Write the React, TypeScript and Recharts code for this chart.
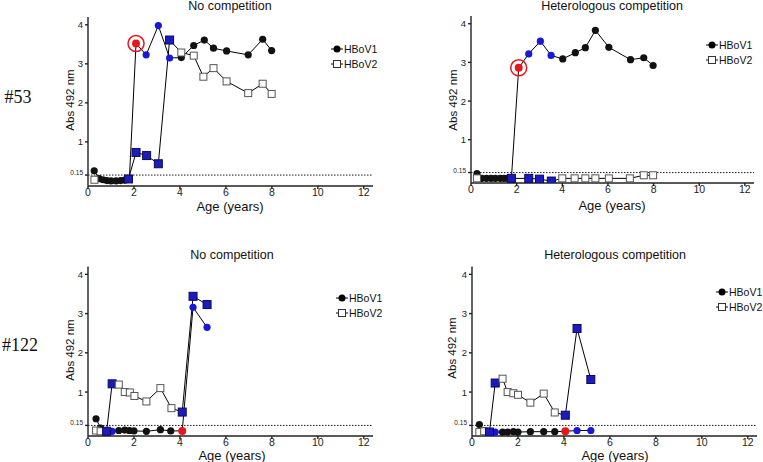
import { Line, LineChart, ReferenceLine, XAxis, YAxis } from 'recharts'

// ---------------------------------------------------------------------------
// Data (ages in years, absorbance at 492 nm, marker colour code per point)
// k = black, b = blue, r = red, R = red with ring, o = open square
// ---------------------------------------------------------------------------

const AGE_TICKS = [0, 2, 4, 6, 8, 10, 12]
const ABS_TICKS = [0, 0.15, 1, 2, 3, 4]
const CUTOFF = 0.15
const SERIES_NAMES = ['HBoV1', 'HBoV2']
const PANEL_TITLES = ['No competition', 'Heterologous competition']
const SUBJECTS = ['#53', '#122']

// #53 – no competition
const P53_NC_V1_AGE = [0.27, 0.48, 0.65, 0.82, 1.0, 1.22, 1.42, 1.6, 1.8, 2.09, 2.53, 3.06, 3.55, 4.06, 4.6, 5.06, 5.46, 6.03, 6.97, 7.6, 7.99]
const P53_NC_V1_ABS = [0.26, 0.06, 0.03, 0.01, 0.0, 0.0, 0.01, 0.02, 0.05, 3.52, 3.23, 3.98, 3.15, 3.16, 3.47, 3.61, 3.4, 3.33, 3.23, 3.63, 3.34]
const P53_NC_V1_COL = ['k', 'k', 'k', 'k', 'k', 'k', 'k', 'k', 'k', 'R', 'b', 'b', 'b', 'k', 'k', 'k', 'k', 'k', 'k', 'k', 'k']
const P53_NC_V2_AGE = [0.28, 1.76, 2.09, 2.55, 3.06, 3.55, 4.06, 4.6, 5.02, 5.46, 6.03, 6.97, 7.6, 7.99]
const P53_NC_V2_ABS = [0.03, 0.05, 0.73, 0.65, 0.44, 3.61, 3.29, 3.21, 2.67, 2.89, 2.55, 2.25, 2.49, 2.23]
const P53_NC_V2_COL = ['o', 'b', 'b', 'b', 'b', 'b', 'o', 'o', 'o', 'o', 'o', 'o', 'o', 'o']

// #53 – heterologous competition
const P53_HC_V1_AGE = [0.26, 0.48, 0.68, 0.88, 1.07, 1.28, 1.45, 1.6, 1.77, 2.09, 2.53, 3.04, 3.51, 4.02, 4.57, 5.01, 5.45, 6.04, 6.99, 7.57, 7.98]
const P53_HC_V1_ABS = [0.12, 0.0, 0.0, 0.0, 0.0, 0.0, 0.0, 0.0, 0.0, 2.86, 3.22, 3.55, 3.18, 3.09, 3.25, 3.38, 3.83, 3.39, 3.07, 3.12, 2.92]
const P53_HC_V1_COL = ['k', 'k', 'k', 'k', 'k', 'k', 'k', 'k', 'k', 'R', 'b', 'b', 'b', 'k', 'k', 'k', 'k', 'k', 'k', 'k', 'k']
const P53_HC_V2_AGE = [0.26, 1.77, 2.53, 3.0, 3.52, 4.0, 4.54, 5.01, 5.45, 6.04, 6.96, 7.57, 7.98]
const P53_HC_V2_ABS = [0.0, 0.0, 0.0, -0.02, -0.07, 0.0, 0.0, 0.0, 0.0, 0.0, 0.0, 0.08, 0.08]
const P53_HC_V2_COL = ['o', 'b', 'b', 'b', 'b', 'o', 'o', 'o', 'o', 'o', 'o', 'o', 'o']

// #122 – no competition
const P122_NC_V1_AGE = [0.35, 0.55, 0.81, 1.05, 1.34, 1.6, 1.8, 2.0, 2.54, 3.15, 3.6, 4.1, 4.57, 5.18]
const P122_NC_V1_ABS = [0.32, 0.08, 0.0, 0.0, 0.02, 0.03, 0.02, 0.01, 0.0, 0.04, 0.01, 0.01, 3.16, 2.65]
const P122_NC_V1_COL = ['k', 'k', 'b', 'b', 'k', 'k', 'k', 'k', 'k', 'k', 'k', 'r', 'b', 'b']
const P122_NC_V2_AGE = [0.35, 0.55, 0.81, 1.05, 1.34, 1.6, 1.82, 2.02, 2.54, 3.15, 3.63, 4.1, 4.57, 5.18]
const P122_NC_V2_ABS = [0.02, 0.0, 0.0, 1.21, 1.19, 1.0, 0.99, 0.9, 0.76, 1.1, 0.59, 0.49, 3.44, 3.23]
const P122_NC_V2_COL = ['o', 'o', 'b', 'b', 'o', 'o', 'o', 'o', 'o', 'o', 'o', 'b', 'b', 'b']

// #122 – heterologous competition
const P122_HC_V1_AGE = [0.32, 0.53, 0.76, 1.01, 1.33, 1.55, 1.8, 2.0, 2.54, 3.12, 3.6, 4.06, 4.57, 5.17]
const P122_HC_V1_ABS = [0.17, 0.02, 0.0, -0.02, -0.02, -0.02, -0.01, -0.02, -0.01, -0.01, -0.01, 0.0, 0.02, 0.02]
const P122_HC_V1_COL = ['k', 'k', 'k', 'b', 'k', 'k', 'k', 'k', 'k', 'k', 'k', 'r', 'b', 'b']
const P122_HC_V2_AGE = [0.32, 0.53, 0.76, 1.01, 1.33, 1.55, 1.8, 2.0, 2.54, 3.12, 3.6, 4.06, 4.57, 5.17]
const P122_HC_V2_ABS = [-0.02, 0.0, -0.02, 1.23, 1.34, 1.0, 0.97, 0.93, 0.73, 0.96, 0.48, 0.41, 2.62, 1.32]
const P122_HC_V2_COL = ['o', 'o', 'b', 'b', 'o', 'o', 'o', 'o', 'o', 'o', 'o', 'b', 'b', 'b']

// ---------------------------------------------------------------------------
// Helpers
// ---------------------------------------------------------------------------

type Pt = { x: number; y: number; c: string }

function toPoints(age: number[], abs: number[], col: string[]): Pt[] {
  return age.map((x, i) => ({ x, y: abs[i], c: col[i] }))
}

const FONT = '"Liberation Sans", Arial, Helvetica, sans-serif'
const BLACK = '#111'
const BLUE = '#1818d8'
const BLUE_SQ = '#1b1bc4'
const RED = '#e8161c'
const AXIS = '#222'

function circleDot(props: any) {
  const { cx, cy, payload, index } = props
  if (cx == null || cy == null) return <g key={index} />
  const c = payload.c
  const fill = c === 'b' ? BLUE : c === 'r' || c === 'R' ? RED : BLACK
  return (
    <g key={index}>
      {c === 'R' && <circle cx={cx} cy={cy} r={8} fill="none" stroke={RED} strokeWidth={1.5} />}
      <circle cx={cx} cy={cy} r={c === 'R' || c === 'r' ? 4 : 3.6} fill={fill} />
    </g>
  )
}

function squareDot(props: any) {
  const { cx, cy, payload, index } = props
  if (cx == null || cy == null) return <g key={index} />
  const blue = payload.c === 'b'
  const s = blue ? 8 : 7
  return (
    <rect
      key={index}
      x={cx - s / 2}
      y={cy - s / 2}
      width={s}
      height={s}
      fill={blue ? BLUE_SQ : '#fff'}
      stroke={blue ? '#0c0c50' : '#555'}
      strokeWidth={1}
    />
  )
}

function AbsTick(props: any) {
  const { x, y, payload } = props
  const small = payload.value === CUTOFF
  return (
    <text
      x={x}
      y={y}
      dy={small ? 0 : 3.5}
      textAnchor="end"
      fontSize={small ? 6.5 : 9.5}
      fontFamily={FONT}
      fill={AXIS}
    >
      {payload.value}
    </text>
  )
}

// ---------------------------------------------------------------------------
// Panel
// ---------------------------------------------------------------------------

interface PanelProps {
  left: number
  top: number
  width: number
  height: number
  yAxisWidth: number
  marginTop: number
  marginRight: number
  xAxisHeight: number
  yMin: number
  v1: Pt[]
  v2: Pt[]
}

function Panel(p: PanelProps) {
  return (
    <div style={{ position: 'absolute', left: p.left, top: p.top }}>
      <LineChart
        width={p.width}
        height={p.height}
        margin={{ top: p.marginTop, right: p.marginRight, left: 0, bottom: 0 }}
      >
        <XAxis
          type="number"
          dataKey="x"
          domain={[0, 12.4]}
          ticks={AGE_TICKS}
          allowDataOverflow
          height={p.xAxisHeight}
          tickSize={3}
          tickMargin={0}
          stroke={AXIS}
          strokeWidth={1.4}
          tick={{ fontSize: 10.5, fill: AXIS, fontFamily: FONT }}
        />
        <YAxis
          type="number"
          domain={[p.yMin, 4.2]}
          ticks={ABS_TICKS}
          allowDataOverflow
          width={p.yAxisWidth}
          tickSize={3}
          tickMargin={2}
          stroke={AXIS}
          strokeWidth={1.4}
          tick={<AbsTick />}
        />
        <ReferenceLine y={CUTOFF} stroke="#000" strokeWidth={0.9} strokeDasharray="1.5 1.5" />
        <Line
          data={p.v1}
          dataKey="y"
          type="linear"
          stroke="#000"
          strokeWidth={1}
          dot={circleDot}
          activeDot={false}
          isAnimationActive={false}
        />
        <Line
          data={p.v2}
          dataKey="y"
          type="linear"
          stroke="#000"
          strokeWidth={1}
          dot={squareDot}
          activeDot={false}
          isAnimationActive={false}
        />
      </LineChart>
    </div>
  )
}

function LegendBlock({ x, y }: { x: number; y: number }) {
  return (
    <g fontFamily={FONT} fontSize={10.5} fill="#111">
      <line x1={x - 6} x2={x + 6} y1={y} y2={y} stroke="#000" strokeWidth={1} />
      <circle cx={x} cy={y} r={3.5} fill="#000" />
      <text x={x + 7} y={y + 3.8}>{SERIES_NAMES[0]}</text>
      <line x1={x - 6} x2={x + 6} y1={y + 15} y2={y + 15} stroke="#000" strokeWidth={1} />
      <rect x={x - 3.5} y={y + 11.5} width={7} height={7} fill="#fff" stroke="#333" strokeWidth={1} />
      <text x={x + 7} y={y + 18.8}>{SERIES_NAMES[1]}</text>
    </g>
  )
}

export default function App() {
  return (
    <div
      style={{
        position: 'absolute',
        left: 0,
        top: 0,
        width: 763,
        height: 462,
        background: '#fff',
        overflow: 'hidden',
      }}
    >
      <Panel
        left={0}
        top={0}
        width={380}
        height={230}
        yAxisWidth={88}
        marginTop={17}
        marginRight={7}
        xAxisHeight={44}
        yMin={-0.13}
        v1={toPoints(P53_NC_V1_AGE, P53_NC_V1_ABS, P53_NC_V1_COL)}
        v2={toPoints(P53_NC_V2_AGE, P53_NC_V2_ABS, P53_NC_V2_COL)}
      />
      <Panel
        left={380}
        top={0}
        width={383}
        height={230}
        yAxisWidth={91}
        marginTop={16}
        marginRight={9}
        xAxisHeight={47}
        yMin={-0.12}
        v1={toPoints(P53_HC_V1_AGE, P53_HC_V1_ABS, P53_HC_V1_COL)}
        v2={toPoints(P53_HC_V2_AGE, P53_HC_V2_ABS, P53_HC_V2_COL)}
      />
      <Panel
        left={0}
        top={230}
        width={380}
        height={232}
        yAxisWidth={88}
        marginTop={36.5}
        marginRight={7}
        xAxisHeight={26}
        yMin={-0.12}
        v1={toPoints(P122_NC_V1_AGE, P122_NC_V1_ABS, P122_NC_V1_COL)}
        v2={toPoints(P122_NC_V2_AGE, P122_NC_V2_ABS, P122_NC_V2_COL)}
      />
      <Panel
        left={380}
        top={230}
        width={383}
        height={232}
        yAxisWidth={92}
        marginTop={36.5}
        marginRight={6}
        xAxisHeight={26}
        yMin={-0.12}
        v1={toPoints(P122_HC_V1_AGE, P122_HC_V1_ABS, P122_HC_V1_COL)}
        v2={toPoints(P122_HC_V2_AGE, P122_HC_V2_ABS, P122_HC_V2_COL)}
      />
      <svg
        width={763}
        height={462}
        style={{ position: 'absolute', left: 0, top: 0, pointerEvents: 'none' }}
      >
        <g fontFamily={FONT} fill="#111" textAnchor="middle">
          <text x={230} y={10} fontSize={12.5}>{PANEL_TITLES[0]}</text>
          <text x={612} y={10} fontSize={12.5}>{PANEL_TITLES[1]}</text>
          <text x={232} y={259} fontSize={12.5}>{PANEL_TITLES[0]}</text>
          <text x={615} y={259} fontSize={12.5}>{PANEL_TITLES[1]}</text>

          <text x={230} y={211} fontSize={13}>Age (years)</text>
          <text x={612} y={210} fontSize={13}>Age (years)</text>
          <text x={232} y={460} fontSize={13}>Age (years)</text>
          <text x={615} y={460} fontSize={13}>Age (years)</text>

          <text x={74} y={100} fontSize={11.5} transform="rotate(-90 74 100)">Abs 492 nm</text>
          <text x={457} y={100} fontSize={11.5} transform="rotate(-90 457 100)">Abs 492 nm</text>
          <text x={74} y={350} fontSize={11.5} transform="rotate(-90 74 350)">Abs 492 nm</text>
          <text x={456} y={348} fontSize={11.5} transform="rotate(-90 456 348)">Abs 492 nm</text>
        </g>
        <g fontFamily='"Liberation Serif", "Times New Roman", serif' fontSize={18} fill="#111" textAnchor="middle">
          <text x={18} y={103}>{SUBJECTS[0]}</text>
          <text x={20} y={351}>{SUBJECTS[1]}</text>
        </g>
        <LegendBlock x={337} y={49} />
        <LegendBlock x={712} y={45} />
        <LegendBlock x={342} y={298} />
        <LegendBlock x={722} y={292} />
      </svg>
    </div>
  )
}
